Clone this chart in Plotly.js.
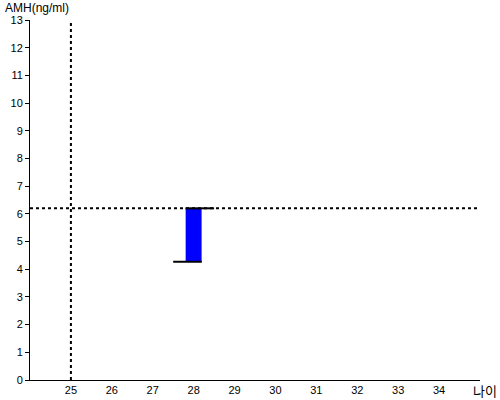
<!DOCTYPE html>
<html><head><meta charset="utf-8">
<script src="https://cdn.plot.ly/plotly-3.0.1.min.js"></script>
<style>body{margin:0}#c{width:500px;height:400px}</style>
</head><body><div id="c"></div>
<script>
const ages = [28];
const amhLow = [4.27];
const amhHigh = [6.2];
const refAge = 25;
const refAmh = 6.2;
const xTicks = [25,26,27,28,29,30,31,32,33,34];
const yTicks = [0,1,2,3,4,5,6,7,8,9,10,11,12,13];

const traces = [
  {type:'bar', x:ages, base:amhLow, y:amhHigh.map((h,i)=>h-amhLow[i]), width:0.39,
   marker:{color:'#0000ff', line:{width:0}}, hoverinfo:'skip'},
  {type:'scatter', mode:'lines', x:[ages[0]-0.2, ages[0]+0.5], y:[amhHigh[0], amhHigh[0]],
   line:{color:'#000', width:2}, hoverinfo:'skip'},
  {type:'scatter', mode:'lines', x:[ages[0]-0.5, ages[0]+0.2], y:[amhLow[0], amhLow[0]],
   line:{color:'#000', width:2}, hoverinfo:'skip'}
];

const layout = {
  width:500, height:400, showlegend:false,
  margin:{l:30, r:20, t:20, b:20},
  paper_bgcolor:'#fff', plot_bgcolor:'#fff',
  font:{family:'Liberation Sans, Arial, sans-serif', size:11, color:'#000'},
  xaxis:{range:[24,35], tickvals:xTicks, ticks:'', showgrid:false, zeroline:false,
    showline:true, linecolor:'#000', linewidth:1, tickfont:{size:11}},
  yaxis:{range:[0,13], tickvals:yTicks, ticks:'outside', ticklen:4, tickcolor:'#000',
    showgrid:false, zeroline:false, showline:true, linecolor:'#000', linewidth:1, tickfont:{size:11}},
  shapes:[
    {type:'line', xref:'x', yref:'paper', x0:refAge, x1:refAge, y0:0, y1:1,
     line:{color:'#000', width:2, dash:'dot'}},
    {type:'line', xref:'paper', yref:'y', x0:0, x1:1, y0:refAmh, y1:refAmh,
     line:{color:'#000', width:2, dash:'dot'}}
  ],
  annotations:[
    {text:'AMH(ng/ml)', xref:'paper', yref:'paper', x:-0.06, y:1.0, yshift:3, xanchor:'left', yanchor:'bottom',
     showarrow:false, font:{size:12}},
    {text:'나이', xref:'paper', yref:'paper', x:1.0, y:0, xshift:19, yshift:-10, xanchor:'right', yanchor:'middle',
     showarrow:false, font:{size:13, family:'Noto Sans CJK KR'}}
  ]
};
Plotly.newPlot('c', traces, layout, {displayModeBar:false, staticPlot:true});
</script></body></html>
